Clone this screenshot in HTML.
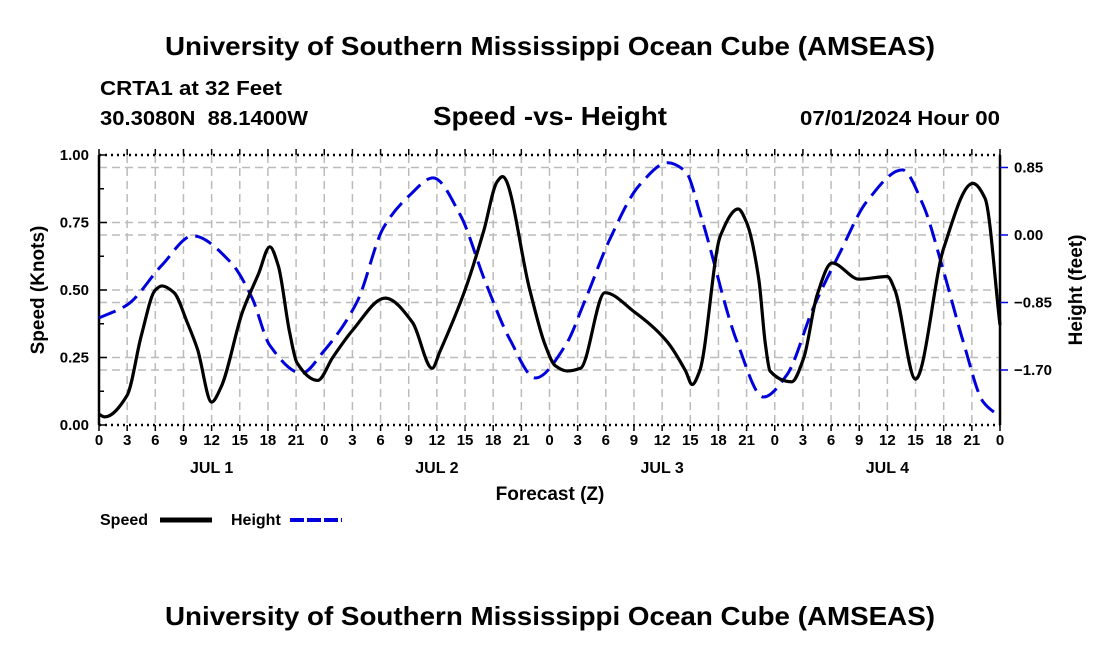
<!DOCTYPE html>
<html><head><meta charset="utf-8"><style>
body{margin:0;background:#fff;width:1100px;height:650px;overflow:hidden}
svg text{font-family:"Liberation Sans",sans-serif;font-weight:bold;fill:#000}
</style></head><body>
<svg id="chart" width="1100" height="650" xmlns="http://www.w3.org/2000/svg">
<text x="165" y="55" font-size="26" textLength="770" lengthAdjust="spacingAndGlyphs">University of Southern Mississippi Ocean Cube (AMSEAS)</text>
<text x="100" y="95" font-size="20" textLength="182" lengthAdjust="spacingAndGlyphs">CRTA1 at 32 Feet</text>
<text x="100" y="125" font-size="20" textLength="208" lengthAdjust="spacingAndGlyphs" xml:space="preserve">30.3080N  88.1400W</text>
<text x="433" y="125" font-size="26" textLength="234" lengthAdjust="spacingAndGlyphs">Speed -vs- Height</text>
<text x="800" y="125" font-size="20" textLength="200" lengthAdjust="spacingAndGlyphs">07/01/2024 Hour 00</text>
<g id="grid"></g>
<g id="axes"></g>
<g id="series"></g>
<text x="550" y="500" font-size="19" text-anchor="middle">Forecast (Z)</text>
<text transform="translate(44,290) rotate(-90)" font-size="19" text-anchor="middle">Speed (Knots)</text>
<text transform="translate(1082,290) rotate(-90)" font-size="19" text-anchor="middle">Height (feet)</text>
<g>
<text x="100" y="525" font-size="16">Speed</text>
<line x1="160" y1="520" x2="212" y2="520" stroke="#000" stroke-width="5"/>
<text x="231" y="525" font-size="16">Height</text>
<line x1="290" y1="520" x2="342" y2="520" stroke="#0000dd" stroke-width="4" stroke-dasharray="14,3"/>
</g>
<text x="165" y="625" font-size="26" textLength="770" lengthAdjust="spacingAndGlyphs">University of Southern Mississippi Ocean Cube (AMSEAS)</text>
</svg>
<script>
const speedHours=[0,0.6,3,4.5,6,6.7,8,9.4,10.5,12,13,15.3,17,18.2,19.1,20.3,21.1,23.3,24.9,27,30.5,33.4,35.5,36.3,39,41,42.4,43,45.9,47.5,48.6,49.9,51.3,53.9,57,60.5,62.5,63.2,64,66.2,68.1,69,70.3,71,71.5,73.8,75.1,76.5,78.1,81,84,84.8,87,90,93.1,94.4,96];
const speedValues=[0.04,0.03,0.11,0.33,0.5,0.515,0.49,0.38,0.28,0.085,0.14,0.42,0.56,0.66,0.59,0.345,0.23,0.165,0.25,0.35,0.47,0.38,0.21,0.27,0.5,0.72,0.9,0.92,0.5,0.3,0.22,0.2,0.21,0.49,0.42,0.31,0.2,0.15,0.2,0.7,0.8,0.75,0.54,0.3,0.2,0.16,0.25,0.48,0.6,0.54,0.55,0.5,0.17,0.655,0.895,0.84,0.37];
const heightHours=[0,3,6.7,10,14,16.3,18.2,21.6,23.9,27.5,30.3,33.1,35.6,38.5,41.1,43.8,46.5,49.7,51.8,54.4,57.6,60.6,62.5,64.1,68,70.8,73.3,76.1,79,81.8,85.6,87.8,89.9,92.1,94.2,96];
const heightValues=[-1.045,-0.88,-0.38,-0.01,-0.34,-0.79,-1.39,-1.74,-1.47,-0.84,0.09,0.5,0.72,0.25,-0.57,-1.32,-1.8,-1.39,-0.82,-0.06,0.63,0.91,0.8,0.25,-1.35,-2.04,-1.76,-0.92,-0.21,0.42,0.82,0.38,-0.42,-1.35,-2.1,-2.29];
const speedTicks=[0,0.25,0.5,0.75,1.0];
const heightTicks=[0.85,0,-0.85,-1.7];
const hourTickLabels=["0","3","6","9","12","15","18","21"];
const dayLabels=["JUL 1","JUL 2","JUL 3","JUL 4"];
const X0=99,X1=1000,Y0=425,Y1=155;
const xs=h=>X0+(h/96)*(X1-X0);
const ys=s=>Y0-s*(Y0-Y1);
const yh=v=>235-v*(67.5/0.85);
const NS="http://www.w3.org/2000/svg";
function mk(parent,tag,attrs){const e=document.createElementNS(NS,tag);for(const k in attrs)e.setAttribute(k,attrs[k]);document.getElementById(parent).appendChild(e);return e;}
for(let h=3;h<96;h+=3){const l=mk('grid','line',{x1:xs(h),x2:xs(h),y1:Y1,y2:Y0,stroke:'#bbb','stroke-width':1.5,'stroke-dasharray':'8,5'});

}
speedTicks.slice(1,4).forEach(s=>{const l=mk('grid','line',{x1:X0,x2:X1,y1:ys(s),y2:ys(s),stroke:'#bbb','stroke-width':1.5,'stroke-dasharray':'8,5'});

});
heightTicks.forEach(v=>{const l=mk('grid','line',{x1:X0,x2:X1,y1:yh(v),y2:yh(v),stroke:'#bbb','stroke-width':1.5,'stroke-dasharray':'8,5'});

});
[['x-axis-top',X0,Y1,X1,Y1,'2,4'],['x-axis-bottom',X0,Y0,X1,Y0,'2,4'],['y-axis-left',X0,Y1,X0,Y0,''],['y-axis-right',X1,Y1,X1,Y0,'']].forEach(a=>{
const l=mk('axes','line',{x1:a[1],y1:a[2],x2:a[3],y2:a[4],stroke:'#000','stroke-width':2.5,'stroke-dasharray':a[5]});

});
for(let h=0;h<=96;h+=3){
mk('axes','line',{x1:xs(h),x2:xs(h),y1:Y0,y2:Y0+6,stroke:'#000','stroke-width':1.5});
mk('axes','line',{x1:xs(h),x2:xs(h),y1:Y1,y2:Y1-6,stroke:'#000','stroke-width':1.5});
const t=mk('axes','text',{x:xs(h),y:Y0+20,'font-size':15,'text-anchor':'middle'});t.textContent=hourTickLabels[(h/3)%8];

}
dayLabels.forEach((d,i)=>{const t=mk('axes','text',{x:xs(i*24+12),y:Y0+48,'font-size':16,'text-anchor':'middle'});t.textContent=d;

});
for(let s=0;s<=1.0001;s+=0.125){mk('axes','line',{x1:X0,x2:X0+(Math.round(s*8)%2?5:8),y1:ys(s),y2:ys(s),stroke:'#000','stroke-width':1.5});}
speedTicks.forEach(s=>{const t=mk('axes','text',{x:X0-10,y:ys(s)+5,'font-size':15,'text-anchor':'end'});t.textContent=s.toFixed(2);

});
heightTicks.forEach(v=>{mk('axes','line',{x1:X1,x2:X1+8,y1:yh(v),y2:yh(v),stroke:'#0000dd','stroke-width':1.5});
const t=mk('axes','text',{x:X1+14,y:yh(v)+5,'font-size':15});t.textContent=(v<0?'\u2212':'')+Math.abs(v).toFixed(2);

});
function smooth(pts){
const n=pts.length,d=[],m=[];
for(let i=0;i<n-1;i++)d.push((pts[i+1][1]-pts[i][1])/(pts[i+1][0]-pts[i][0]));
m[0]=d[0];m[n-1]=d[n-2];
for(let i=1;i<n-1;i++){if(d[i-1]*d[i]<=0)m[i]=0;else{const h0=pts[i][0]-pts[i-1][0],h1=pts[i+1][0]-pts[i][0];m[i]=3*(h0+h1)/((2*h1+h0)/d[i-1]+(h1+2*h0)/d[i]);}}
let p='M'+pts[0][0]+','+pts[0][1];
for(let i=0;i<n-1;i++){const h=(pts[i+1][0]-pts[i][0])/3;
p+=' C'+(pts[i][0]+h)+','+(pts[i][1]+m[i]*h)+' '+(pts[i+1][0]-h)+','+(pts[i+1][1]-m[i+1]*h)+' '+pts[i+1][0]+','+pts[i+1][1];}
return p;}
const hp=mk('series','path',{d:smooth(heightHours.map((h,i)=>[xs(h),yh(heightValues[i])])),fill:'none',stroke:'#0000dd','stroke-width':3,'stroke-dasharray':'18,8'});


const sp=mk('series','path',{d:smooth(speedHours.map((h,i)=>[xs(h),ys(speedValues[i])])),fill:'none',stroke:'#000','stroke-width':3.2,'stroke-linejoin':'round'});


</script>
</body></html>
